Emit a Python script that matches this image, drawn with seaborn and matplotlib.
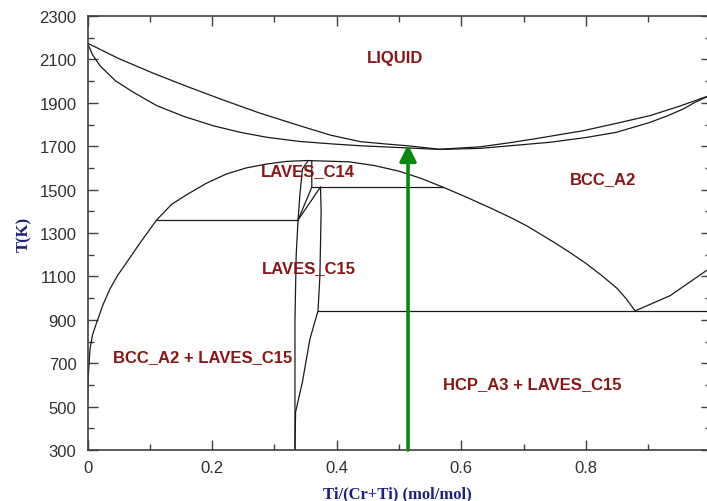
import matplotlib
matplotlib.use("Agg")
import matplotlib.pyplot as plt
import seaborn as sns
import numpy as np

# ---------------- data ----------------
liquidus_x = [0.0, 0.05, 0.105, 0.16, 0.213, 0.275, 0.341, 0.39, 0.438, 0.48, 0.514, 0.565,
              0.63, 0.68, 0.722, 0.795, 0.85, 0.903, 0.95, 1.0]
liquidus_T = [2175, 2104, 2037, 1975, 1918, 1854, 1794, 1751, 1721, 1710, 1702, 1686,
              1697, 1717, 1736, 1771, 1806, 1841, 1884, 1935]

solidus_x = [0.0, 0.008, 0.020, 0.045, 0.074, 0.111, 0.155, 0.202, 0.245, 0.288, 0.34, 0.395,
             0.438, 0.514, 0.565, 0.63, 0.71, 0.742, 0.80, 0.849, 0.903, 0.93, 0.956, 0.975, 1.0]
solidus_T = [2175, 2122, 2071, 2001, 1948, 1887, 1837, 1794, 1764, 1741, 1722, 1710,
             1702, 1692, 1685, 1690, 1710, 1718, 1740, 1764, 1810, 1839, 1871, 1902, 1935]

dome_x = [0.0, 0.001, 0.004, 0.008, 0.015, 0.025, 0.036, 0.048, 0.063, 0.085, 0.111, 0.135,
          0.159, 0.19, 0.223, 0.255, 0.288, 0.32, 0.352,
          0.42, 0.46, 0.50, 0.535, 0.57, 0.61, 0.65, 0.68, 0.705, 0.75, 0.775, 0.80,
          0.825, 0.85, 0.865, 0.879]
dome_T = [521, 627, 765, 830, 890, 970, 1042, 1103, 1165, 1257, 1360, 1432,
          1476, 1528, 1572, 1600, 1618, 1630, 1634,
          1628, 1611, 1585, 1552, 1512, 1463, 1411, 1370, 1333, 1255, 1209, 1160,
          1105, 1045, 996, 941]

transus_x = [0.879, 0.935, 0.993, 1.0]
transus_T = [941, 1011, 1126, 1138]

eutectoid_x = [0.370, 1.0]
eutectoid_T = [941, 941]

c15_eutectic_x = [0.111, 0.338]
c15_eutectic_T = [1360, 1360]

peritectoid_x = [0.360, 0.571]
peritectoid_T = [1512, 1512]

c15_left_x = [0.333, 0.333, 0.335, 0.338]
c15_left_T = [300, 900, 1200, 1360]

c15_right_x = [0.333, 0.334, 0.345, 0.357, 0.370, 0.373, 0.375, 0.374]
c15_right_T = [300, 475, 614, 811, 941, 1100, 1400, 1512]

c14c15_x = [0.374, 0.338]
c14c15_T = [1512, 1360]

c14_right_x = [0.360, 0.360, 0.357, 0.338]
c14_right_T = [1632, 1512, 1490, 1360]

c14_left_x = [0.354, 0.345, 0.341, 0.338]
c14_left_T = [1633, 1595, 1480, 1360]

arrow_x = 0.5145
arrow_T = [300, 1708]

region_labels = ["LIQUID", "BCC_A2", "LAVES_C14", "LAVES_C15",
                 "BCC_A2 + LAVES_C15", "HCP_A3 + LAVES_C15"]
label_x = [0.493, 0.827, 0.354, 0.356, 0.185, 0.714]
label_T = [2111, 1549, 1586, 1143, 729, 604]

xticks = [0.0, 0.2, 0.4, 0.6, 0.8, 1.0]
xtick_labels = ["0", "0.2", "0.4", "0.6", "0.8", ""]
yticks = list(range(300, 2301, 200))
ytick_labels = [str(v) for v in yticks]

# ---------------- plotting ----------------
sns.set_style("ticks")
plt.rcParams["font.family"] = ["Liberation Sans", "DejaVu Sans"]

fig = plt.figure(figsize=(7.07, 5.02), dpi=100)
ax = fig.add_axes([87.5 / 707, 51 / 502, 623 / 707, 434 / 502])

line_kw = dict(color="#1a1a1a", linewidth=0.9, sort=False, estimator=None, ax=ax, legend=False)
curves = [
    (liquidus_x, liquidus_T), (solidus_x, solidus_T), (dome_x, dome_T),
    (transus_x, transus_T), (eutectoid_x, eutectoid_T), (c15_eutectic_x, c15_eutectic_T),
    (peritectoid_x, peritectoid_T), (c15_left_x, c15_left_T), (c15_right_x, c15_right_T),
    (c14c15_x, c14c15_T), (c14_right_x, c14_right_T), (c14_left_x, c14_left_T),
]
for cx, cy in curves:
    sns.lineplot(x=cx, y=cy, **line_kw)

ax.annotate("", xy=(arrow_x, arrow_T[1]), xytext=(arrow_x, arrow_T[0]),
            arrowprops=dict(arrowstyle="-|>,head_length=0.5,head_width=0.25",
                            mutation_scale=20, color="#0a8a0a", lw=2.6,
                            shrinkA=0, shrinkB=0), zorder=5)

for s, lx, lt in zip(region_labels, label_x, label_T):
    ax.text(lx, lt, s, ha="center", va="center", fontsize=12, fontweight="bold",
            color="#8B1515", family=["Liberation Sans", "DejaVu Sans"])

ax.set_xlim(0, 1)
ax.set_ylim(300, 2300)
ax.set_xticks(xticks)
ax.set_xticklabels(xtick_labels)
ax.set_xticks([0.1, 0.3, 0.5, 0.7, 0.9], minor=True)
ax.set_yticks(yticks)
ax.set_yticklabels(ytick_labels)
ax.set_yticks(list(range(400, 2300, 200)), minor=True)

ax.tick_params(which="both", direction="in", top=True, right=True,
               color="#404040", width=1.0, labelcolor="#303030", labelsize=12)
ax.tick_params(which="major", length=7)
ax.tick_params(which="minor", length=4)
ax.tick_params(axis="x", pad=7)
ax.tick_params(axis="y", pad=8)

for sp in ax.spines.values():
    sp.set_color("#404040")
    sp.set_linewidth(1.2)

ax.set_xlabel("Ti/(Cr+Ti) (mol/mol)", fontsize=12, fontweight="bold",
              color="#1f1f80", family=["Liberation Serif", "DejaVu Serif"])
ax.set_ylabel("T(K)", fontsize=12, fontweight="bold",
              color="#1f1f80", family=["Liberation Serif", "DejaVu Serif"])
ax.xaxis.set_label_coords(0.498, -0.081)
ax.xaxis.label.set_va("top")
ax.yaxis.set_label_coords(-0.089, 0.5)

fig.savefig("out.png", dpi=100)
